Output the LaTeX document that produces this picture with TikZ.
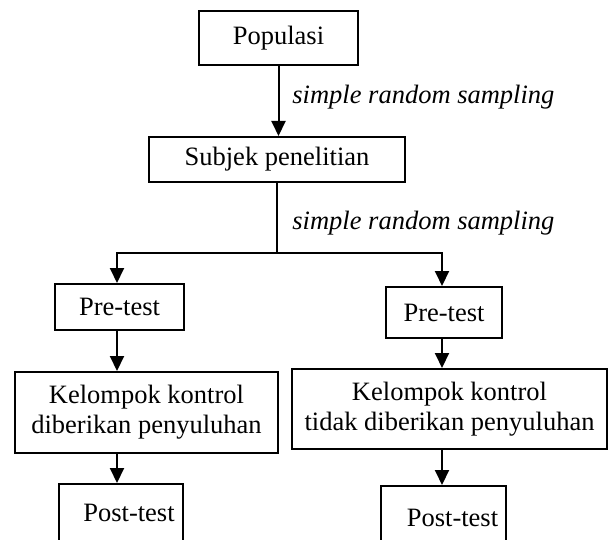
\documentclass[tikz,border=0pt]{standalone}
\usepackage{fontspec}
\setmainfont{Liberation Serif}
\usetikzlibrary{arrows.meta}
\tikzset{
  blok/.style={draw, line width=1pt, inner sep=0pt, align=center,
    font=\fontsize{13.25}{15}\selectfont},
  alur/.style={-{Triangle[length=7.5pt,width=7pt]}, line width=1pt},
  ket/.style={anchor=west, inner sep=0pt, font=\fontsize{13.25}{15}\selectfont\itshape}
}
\begin{document}
\begin{tikzpicture}[x=0.5pt,y=-0.5pt]
      \path[use as bounding box, clip] (0,0) rectangle (608,539);
      \path
        (278.5,38) node[blok, minimum width=79.5pt, minimum height=27pt] (pop){Populasi}
        (277,159.5) node[blok, minimum width=128pt, minimum height=22.5pt] (subj){Subjek penelitian}
        (119.5,307) node[blok, minimum width=64.5pt, minimum height=23pt] (preL){Pre-test}
        (444,312.5) node[blok, minimum width=58pt, minimum height=25.5pt] (preR){Pre-test}
        (146.5,412.5) node[blok, minimum width=131.5pt, minimum height=40.5pt] (kelL){Kelompok kontrol\\diberikan penyuluhan}
        (449.5,409) node[blok, minimum width=157.5pt, minimum height=40pt] (kelR){Kelompok kontrol\\tidak diberikan penyuluhan}
        (121,513) node[blok, minimum width=62pt, minimum height=29pt] (postL){\hspace*{8pt}Post-test}
        (443.5,518) node[blok, minimum width=62.5pt, minimum height=32pt] (postR){\hspace*{9pt}Post-test}
        (292,97) node[ket] (srs1){simple random sampling}
        (292,223) node[ket] (srs2){simple random sampling};
      \coordinate (cabang) at (277,253);
      \begin{scope}[alur]
        \draw (pop.south) to (pop.south |- subj.north);
        \draw[-] (subj.south -| cabang) to (cabang);
        \draw (cabang) -| (117,0 |- preL.north);
        \draw (cabang) -| (442,0 |- preR.north);
        \draw (117,0 |- preL.south) to (117,0 |- kelL.north);
        \draw (442,0 |- preR.south) to (442,0 |- kelR.north);
        \draw (117,0 |- kelL.south) to (117,0 |- postL.north);
        \draw (442,0 |- kelR.south) to (442,0 |- postR.north);
      \end{scope}
    \end{tikzpicture}
\end{document}
